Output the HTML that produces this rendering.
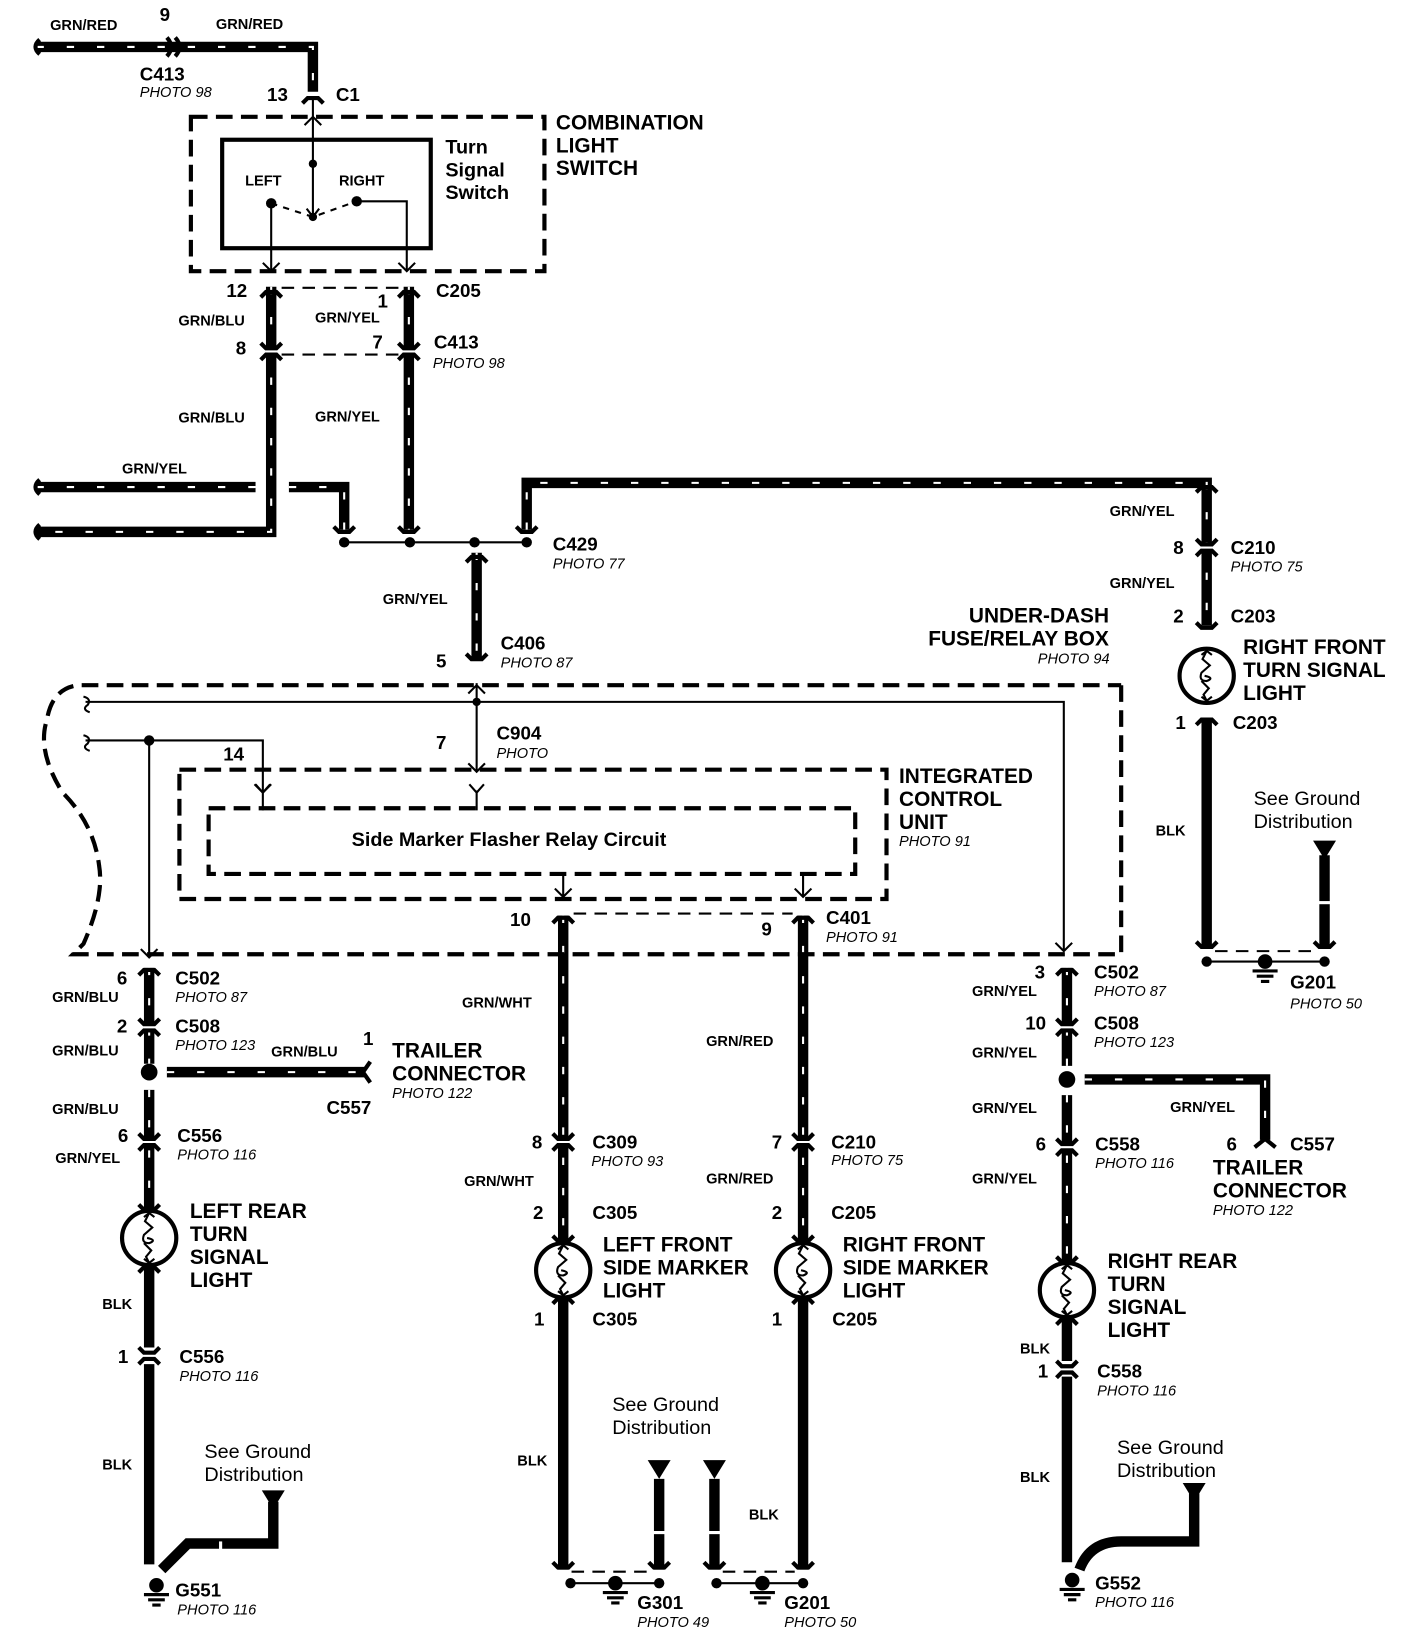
<!DOCTYPE html>
<html><head><meta charset="utf-8"><style>
html,body{margin:0;padding:0;background:#fff;width:1408px;height:1628px;overflow:hidden}
svg{display:block}
text{font-family:"Liberation Sans",Arial,sans-serif;fill:#000}
.L{font-size:20px;font-weight:bold}
.M{font-size:18px;font-weight:bold}
.S{font-size:14px;font-weight:bold}
.P{font-size:14px;font-style:italic}
.G{font-size:19px}
.w{stroke:#000;stroke-width:10;fill:none;stroke-linejoin:miter}
.d{stroke:#fff;stroke-width:2;stroke-dasharray:7 22;fill:none}
.t{stroke:#000;stroke-width:2;fill:none}
.bx{stroke:#000;stroke-width:4;fill:none;stroke-dasharray:16 8}
.cn{stroke:#000;stroke-width:4;fill:none}
</style></head><body>
<svg width="1408" height="1628" viewBox="0 0 1350 1561" xmlns="http://www.w3.org/2000/svg">
<defs>
<path id="p1" d="M35,45 H300 V88"/>
<path id="p2" d="M260,275 V510 H35"/>
<path id="p3" d="M392,275 V508"/>
<path id="p4" d="M35,467 H245"/>
<path id="p5" d="M277,467 H330 V508"/>
<path id="p6" d="M505,508 V463 H1157 V600"/>
<path id="p7" d="M457,530 V632"/>
<path id="p8" d="M540,878 V1190"/>
<path id="p9" d="M770,878 V1190"/>
<path id="p10" d="M143,928 V1020"/>
<path id="p11" d="M160,1028 H350"/>
<path id="p12" d="M143,1045 V1160"/>
<path id="p13" d="M1023,928 V1022"/>
<path id="p14" d="M1040,1035 H1213 V1093"/>
<path id="p15" d="M1023,1050 V1210"/>
<g id="cv"><rect x="-7" y="-3" width="14" height="6" fill="#fff"/><path class="cn" d="M-10,-8 L-5,-3 H5 L10,-8 M-10,8 L-5,3 H5 L10,8"/></g>
<g id="ct"><path class="cn" d="M-10,7 L-5,2 H5 L10,7"/></g>
<g id="cb"><path class="cn" d="M-10,-7 L-5,-2 H5 L10,-7"/></g>
<g id="bulb"><circle r="26" fill="#fff" stroke="#000" stroke-width="4"/><path class="t" d="M0,-24 L-4,-16 L3,-10 L-5,-3 Q-8,5 0,5 Q8,2 -2,0 M-5,5 L2,12 L-3,18 L0,24 M-5,-20 L0,-24 L5,-20 M-5,20 L0,24 L5,20"/></g>
<g id="gnd"><circle r="7"/><path d="M-12,9 H12 M-8,14 H8 M-4,19 H4" stroke="#000" stroke-width="3"/></g>
<path id="tri" d="M-11,-8 H11 L0,10 Z"/>
</defs>

<g class="w"><use href="#p1"/><use href="#p2"/><use href="#p3"/><use href="#p4"/><use href="#p5"/><use href="#p6"/><use href="#p7"/><use href="#p8"/><use href="#p9"/><use href="#p10"/><use href="#p11"/><use href="#p12"/><use href="#p13"/><use href="#p14"/><use href="#p15"/></g>
<g class="d"><use href="#p1"/><use href="#p2"/><use href="#p3"/><use href="#p4"/><use href="#p5"/><use href="#p6"/><use href="#p7"/><use href="#p8"/><use href="#p9"/><use href="#p10"/><use href="#p11"/><use href="#p12"/><use href="#p13"/><use href="#p14"/><use href="#p15"/></g>
<g stroke="#000" stroke-width="10" fill="none">
<path d="M1157,690 V908"/>
<path d="M1270,820 V908"/>
<path d="M540,1245 V1505"/>
<path d="M770,1245 V1505"/>
<path d="M632,1418 V1505"/>
<path d="M685,1418 V1505"/>
<path d="M143,1215 V1292 M143,1308 V1500"/>
<path d="M155,1505 L180,1480 H262 V1440"/>
<path d="M1023,1265 V1305 M1023,1320 V1498"/>
<path d="M1035,1505 Q1045,1478 1075,1478 H1145 V1432"/>
</g>
<g fill="#fff"><rect x="625" y="1468" width="14" height="3"/><rect x="678" y="1468" width="14" height="3"/><rect x="1263" y="864" width="14" height="3"/><rect x="210" y="1478" width="3" height="8"/></g>
<g><use href="#tri" x="1270" y="814"/><use href="#tri" x="632" y="1408"/><use href="#tri" x="685" y="1408"/><use href="#tri" x="262" y="1437"/><use href="#tri" x="1145" y="1430"/></g>

<path class="cn" stroke-width="3" d="M38,38 Q30,45 38,52 M38,460 Q30,467 38,474 M38,503 Q30,510 38,517"/>
<path class="cn" d="M160,36 Q168,45 160,54 M168,36 Q176,45 168,54"/>

<use href="#ct" x="300" y="92"/>
<use href="#ct" x="260" y="278"/><use href="#ct" x="392" y="278"/>
<use href="#cv" x="260" y="337"/><use href="#cv" x="392" y="337"/>
<path class="t" stroke-dasharray="12 8" d="M270,276 H382 M270,340 H382"/>
<use href="#cb" x="330" y="512"/><use href="#cb" x="392" y="512"/><use href="#cb" x="505" y="512"/>
<use href="#ct" x="457" y="532"/><use href="#cb" x="457" y="634"/>
<use href="#ct" x="1157" y="465"/><use href="#cv" x="1157" y="525"/><use href="#cb" x="1157" y="604"/><use href="#ct" x="1157" y="688"/>
<use href="#cb" x="1157" y="910"/><use href="#cb" x="1270" y="910"/>
<path class="t" stroke-dasharray="12 8" d="M1165,912 H1262"/>
<path class="t" d="M1157,922 H1270"/><circle cx="1157" cy="922" r="5"/><circle cx="1270" cy="922" r="5"/><use href="#gnd" x="1213" y="922"/>

<use href="#ct" x="540" y="878"/><use href="#ct" x="770" y="878"/>
<path class="t" stroke-dasharray="12 8" d="M550,876 H760"/>
<use href="#cv" x="540" y="1095"/><use href="#cv" x="770" y="1095"/>
<use href="#cb" x="540" y="1192"/><use href="#cb" x="770" y="1192"/>
<use href="#ct" x="540" y="1243"/><use href="#ct" x="770" y="1243"/>
<use href="#bulb" x="540" y="1218"/><use href="#bulb" x="770" y="1218"/>
<use href="#cb" x="540" y="1505"/><use href="#cb" x="632" y="1505"/><use href="#cb" x="685" y="1505"/><use href="#cb" x="770" y="1505"/>
<path class="t" stroke-dasharray="12 8" d="M548,1507 H624 M693,1507 H762"/>
<path class="t" d="M547,1518 H632 M687,1518 H770"/>
<circle cx="547" cy="1518" r="5"/><circle cx="632" cy="1518" r="5"/><circle cx="687" cy="1518" r="5"/><circle cx="770" cy="1518" r="5"/>
<use href="#gnd" x="590" y="1518"/><use href="#gnd" x="731" y="1518"/>

<use href="#ct" x="143" y="928"/><use href="#cv" x="143" y="985"/>
<circle cx="143" cy="1028" r="8"/>
<path class="cn" d="M355,1018 L348,1028 L355,1038"/>
<use href="#cv" x="143" y="1095"/><use href="#cb" x="143" y="1162"/>
<use href="#bulb" x="143" y="1187"/><use href="#ct" x="143" y="1213"/>
<use href="#cv" x="143" y="1300"/>
<use href="#gnd" x="150" y="1520"/>

<use href="#ct" x="1023" y="928"/><use href="#cv" x="1023" y="985"/>
<circle cx="1023" cy="1035" r="8"/>
<use href="#cv" x="1023" y="1100"/><use href="#cb" x="1023" y="1212"/>
<use href="#bulb" x="1023" y="1237"/><use href="#ct" x="1023" y="1263"/>
<use href="#cv" x="1023" y="1313"/>
<path class="cn" d="M1203,1100 L1213,1092 L1223,1100"/>
<use href="#gnd" x="1028" y="1515"/>
<use href="#bulb" x="1157" y="648"/>

<rect class="bx" x="183" y="112" width="339" height="148"/>
<rect x="213" y="134" width="200" height="104" fill="none" stroke="#000" stroke-width="4"/>
<path class="t" d="M300,95 V210 M260,195 V260 M342,193 H390 V260"/>
<path class="t" stroke-dasharray="6 6" d="M260,195 L300,208 L342,193"/>
<circle cx="300" cy="157" r="4"/><circle cx="300" cy="208" r="4"/><circle cx="260" cy="195" r="5"/><circle cx="342" cy="193" r="5"/>
<path class="t" d="M292,120 L300,112 L308,120 M252,252 L260,260 L268,252 M382,252 L390,260 L398,252 M294,200 L300,208 L306,200"/>

<path class="t" d="M330,520 H505"/><circle cx="330" cy="520" r="5"/><circle cx="393" cy="520" r="5"/><circle cx="455" cy="520" r="5"/><circle cx="505" cy="520" r="5"/>

<path class="bx" d="M1075,657 V915 H70 L80,905 Q100,860 95,830 Q90,790 60,760 Q35,720 45,690 Q50,660 75,657 H1075"/>
<path class="t" d="M457,655 V740 M82,673 H1020 V912 M82,710 H252 V760 M143,710 V918"/>
<path class="t" d="M80,668 Q88,670 84,676 Q78,680 86,683 M80,705 Q88,707 84,713 Q78,717 86,720"/>
<circle cx="457" cy="673" r="4"/><circle cx="143" cy="710" r="5"/>
<path class="t" d="M449,665 L457,657 L465,665 M1012,904 L1020,912 L1028,904 M135,910 L143,918 L151,910 M244,752 L252,760 L260,752 M449,732 L457,740 L465,732"/>
<rect class="bx" x="172" y="738" width="678" height="124"/>
<rect class="bx" x="200" y="775" width="620" height="63"/>
<path class="t" d="M252,758 V777 M245,752 L252,760 L259,752 M457,758 V777 M450,752 L457,760 L464,752 M540,838 V860 M770,838 V860 M532,852 L540,860 L548,852 M762,852 L770,860 L778,852"/>

<g class="S">
<text x="48" y="29">GRN/RED</text><text x="207" y="28">GRN/RED</text>
<text x="171" y="312">GRN/BLU</text><text x="302" y="309">GRN/YEL</text>
<text x="171" y="405">GRN/BLU</text><text x="302" y="404">GRN/YEL</text>
<text x="117" y="454">GRN/YEL</text>
<text x="1064" y="495">GRN/YEL</text><text x="1064" y="564">GRN/YEL</text>
<text x="367" y="579">GRN/YEL</text>
<text x="1108" y="801">BLK</text>
<text x="50" y="961">GRN/BLU</text><text x="50" y="1012">GRN/BLU</text><text x="260" y="1013">GRN/BLU</text>
<text x="50" y="1068">GRN/BLU</text><text x="53" y="1115">GRN/YEL</text>
<text x="443" y="966">GRN/WHT</text><text x="677" y="1003">GRN/RED</text>
<text x="445" y="1137">GRN/WHT</text><text x="677" y="1135">GRN/RED</text>
<text x="932" y="955">GRN/YEL</text><text x="932" y="1014">GRN/YEL</text><text x="932" y="1067">GRN/YEL</text><text x="1122" y="1066">GRN/YEL</text><text x="932" y="1135">GRN/YEL</text>
<text x="98" y="1255">BLK</text><text x="98" y="1409">BLK</text>
<text x="496" y="1405">BLK</text><text x="718" y="1457">BLK</text>
<text x="978" y="1298">BLK</text><text x="978" y="1421">BLK</text>
<text x="235" y="178">LEFT</text><text x="325" y="178">RIGHT</text>
</g>
<g class="M">
<text x="153" y="20">9</text><text x="256" y="97">13</text><text x="322" y="97">C1</text>
<text x="134" y="77">C413</text>
<text x="217" y="285">12</text><text x="362" y="295">1</text><text x="418" y="285">C205</text>
<text x="226" y="340">8</text><text x="357" y="334">7</text><text x="416" y="334">C413</text>
<text x="530" y="528">C429</text><text x="480" y="623">C406</text><text x="418" y="640">5</text>
<text x="1180" y="531">C210</text><text x="1125" y="531">8</text>
<text x="1180" y="597">C203</text><text x="1125" y="597">2</text>
<text x="1182" y="699">C203</text><text x="1127" y="699">1</text>
<text x="476" y="709">C904</text><text x="418" y="718">7</text><text x="214" y="729">14</text>
<text x="489" y="888">10</text><text x="730" y="897">9</text><text x="792" y="886">C401</text>
<text x="112" y="944">6</text><text x="168" y="944">C502</text>
<text x="112" y="990">2</text><text x="168" y="990">C508</text>
<text x="348" y="1002">1</text><text x="313" y="1068">C557</text>
<text x="113" y="1095">6</text><text x="170" y="1095">C556</text>
<text x="113" y="1307">1</text><text x="172" y="1307">C556</text>
<text x="510" y="1101">8</text><text x="568" y="1101">C309</text>
<text x="740" y="1101">7</text><text x="797" y="1101">C210</text>
<text x="511" y="1169">2</text><text x="568" y="1169">C305</text>
<text x="740" y="1169">2</text><text x="797" y="1169">C205</text>
<text x="512" y="1271">1</text><text x="568" y="1271">C305</text>
<text x="740" y="1271">1</text><text x="798" y="1271">C205</text>
<text x="168" y="1531">G551</text><text x="611" y="1543">G301</text><text x="752" y="1543">G201</text>
<text x="1237" y="948">G201</text>
<text x="992" y="938">3</text><text x="1049" y="938">C502</text>
<text x="983" y="987">10</text><text x="1049" y="987">C508</text>
<text x="993" y="1103">6</text><text x="1050" y="1103">C558</text>
<text x="1176" y="1103">6</text><text x="1237" y="1103">C557</text>
<text x="995" y="1321">1</text><text x="1052" y="1321">C558</text>
<text x="1050" y="1524">G552</text>
</g>
<g class="P">
<text x="134" y="93">PHOTO 98</text><text x="415" y="353">PHOTO 98</text>
<text x="530" y="545">PHOTO 77</text><text x="480" y="640">PHOTO 87</text>
<text x="1180" y="548">PHOTO 75</text><text x="995" y="636">PHOTO 94</text>
<text x="476" y="727">PHOTO</text><text x="862" y="811">PHOTO 91</text>
<text x="792" y="903">PHOTO 91</text>
<text x="168" y="961">PHOTO 87</text><text x="168" y="1007">PHOTO 123</text>
<text x="376" y="1053">PHOTO 122</text><text x="170" y="1112">PHOTO 116</text>
<text x="172" y="1324">PHOTO 116</text><text x="170" y="1548">PHOTO 116</text>
<text x="567" y="1118">PHOTO 93</text><text x="797" y="1117">PHOTO 75</text>
<text x="611" y="1560">PHOTO 49</text><text x="752" y="1560">PHOTO 50</text>
<text x="1237" y="967">PHOTO 50</text>
<text x="1049" y="955">PHOTO 87</text><text x="1049" y="1004">PHOTO 123</text>
<text x="1050" y="1120">PHOTO 116</text><text x="1163" y="1165">PHOTO 122</text>
<text x="1052" y="1338">PHOTO 116</text><text x="1050" y="1541">PHOTO 116</text>
</g>
<g class="L">
<text x="533" y="124">COMBINATION</text><text x="533" y="146">LIGHT</text><text x="533" y="168">SWITCH</text>
<text x="427" y="147" style="font-size:19px">Turn</text><text x="427" y="169" style="font-size:19px">Signal</text><text x="427" y="191" style="font-size:19px">Switch</text>
<text x="929" y="597">UNDER-DASH</text><text x="890" y="619">FUSE/RELAY BOX</text>
<text x="1192" y="627">RIGHT FRONT</text><text x="1192" y="649">TURN SIGNAL</text><text x="1192" y="671">LIGHT</text>
<text x="862" y="751">INTEGRATED</text><text x="862" y="773">CONTROL</text><text x="862" y="795">UNIT</text>
<text x="488" y="811" text-anchor="middle" style="font-size:19px">Side Marker Flasher Relay Circuit</text>
<text x="376" y="1014">TRAILER</text><text x="376" y="1036">CONNECTOR</text>
<text x="182" y="1168">LEFT REAR</text><text x="182" y="1190">TURN</text><text x="182" y="1212">SIGNAL</text><text x="182" y="1234">LIGHT</text>
<text x="578" y="1200">LEFT FRONT</text><text x="578" y="1222">SIDE MARKER</text><text x="578" y="1244">LIGHT</text>
<text x="808" y="1200">RIGHT FRONT</text><text x="808" y="1222">SIDE MARKER</text><text x="808" y="1244">LIGHT</text>
<text x="1163" y="1126">TRAILER</text><text x="1163" y="1148">CONNECTOR</text>
<text x="1062" y="1216">RIGHT REAR</text><text x="1062" y="1238">TURN</text><text x="1062" y="1260">SIGNAL</text><text x="1062" y="1282">LIGHT</text>
</g>
<g class="G">
<text x="1202" y="772">See Ground</text><text x="1202" y="794">Distribution</text>
<text x="196" y="1398">See Ground</text><text x="196" y="1420">Distribution</text>
<text x="587" y="1353">See Ground</text><text x="587" y="1375">Distribution</text>
<text x="1071" y="1394">See Ground</text><text x="1071" y="1416">Distribution</text>
</g>
</svg>
</body></html>
